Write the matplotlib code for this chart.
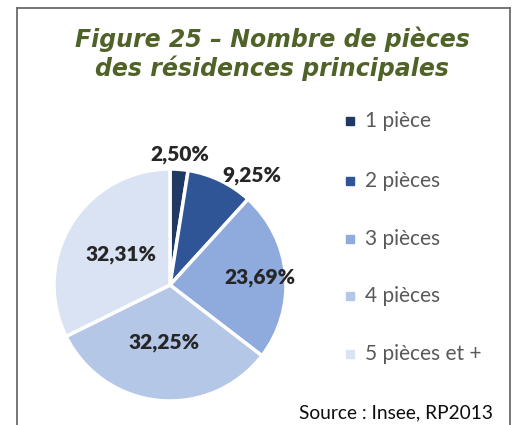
import numpy as np
import matplotlib.pyplot as plt
from matplotlib.patches import Rectangle

categories = ["1 pièce", "2 pièces", "3 pièces", "4 pièces", "5 pièces et +"]
values = [2.50, 9.25, 23.69, 32.25, 32.31]
pct_labels = ["2,50%", "9,25%", "23,69%", "32,25%", "32,31%"]
colors = ["#1F3864", "#2F5597", "#8FAADC", "#B4C7E7", "#DAE3F3"]

W, H = 515, 425
fig = plt.figure(figsize=(W / 100, H / 100), dpi=100)

# frame around chart (no bottom edge visible)
fig.add_artist(plt.Line2D([17 / W, 17 / W], [0, 1 - 8 / H], color="#6b6b6b", lw=1.3))
fig.add_artist(plt.Line2D([510 / W, 510 / W], [0, 1 - 8 / H], color="#6b6b6b", lw=1.3))
fig.add_artist(plt.Line2D([17 / W, 510 / W], [1 - 8 / H, 1 - 8 / H], color="#6b6b6b", lw=1.3))

fig.text(272 / W, 1 - 54 / H, "Figure 25 – Nombre de pièces\ndes résidences principales",
         ha="center", va="center", fontsize=17, fontweight="bold", style="italic",
         color="#4F6228", family="DejaVu Sans", linespacing=1.15)

cx, cy, r = 170, 285, 116
ax = fig.add_axes([(cx - r) / W, (H - cy - r) / H, 2 * r / W, 2 * r / H])
wedges, _ = ax.pie(values, colors=colors, startangle=90, counterclock=False, radius=1,
                   wedgeprops=dict(edgecolor="white", linewidth=2.5))
ax.set_xlim(-1, 1)
ax.set_ylim(-1, 1)
ax.axis("off")

# label placement (Excel-like best fit)
label_r = [1.05, 1.05, 0.78, 0.5, 0.5]
label_ha = ["center", "left", "center", "center", "center"]
label_va = ["bottom", "center", "center", "center", "center"]
for w, lab, d, ha, va in zip(wedges, pct_labels, label_r, label_ha, label_va):
    ang = np.deg2rad((w.theta1 + w.theta2) / 2)
    ax.text(d * np.cos(ang), d * np.sin(ang), lab, ha=ha, va=va, fontsize=15,
            fontweight="heavy", color="#262626", family="Lato")

# legend
leg_y = [121, 181, 239, 296, 354]
for name, c, y in zip(categories, colors, leg_y):
    fig.add_artist(Rectangle(((350 - 4) / W, (H - y - 4) / H), 8 / W, 8 / H, color=c))
    fig.text(365 / W, 1 - y / H, name, ha="left", va="center", fontsize=15,
             color="#595959", family="Lato")

fig.text(493 / W, 1 - 413 / H, "Source : Insee, RP2013", ha="right", va="center",
         fontsize=13.8, color="#0d0d0d", family="Lato")

fig.savefig("out.png", dpi=100)
